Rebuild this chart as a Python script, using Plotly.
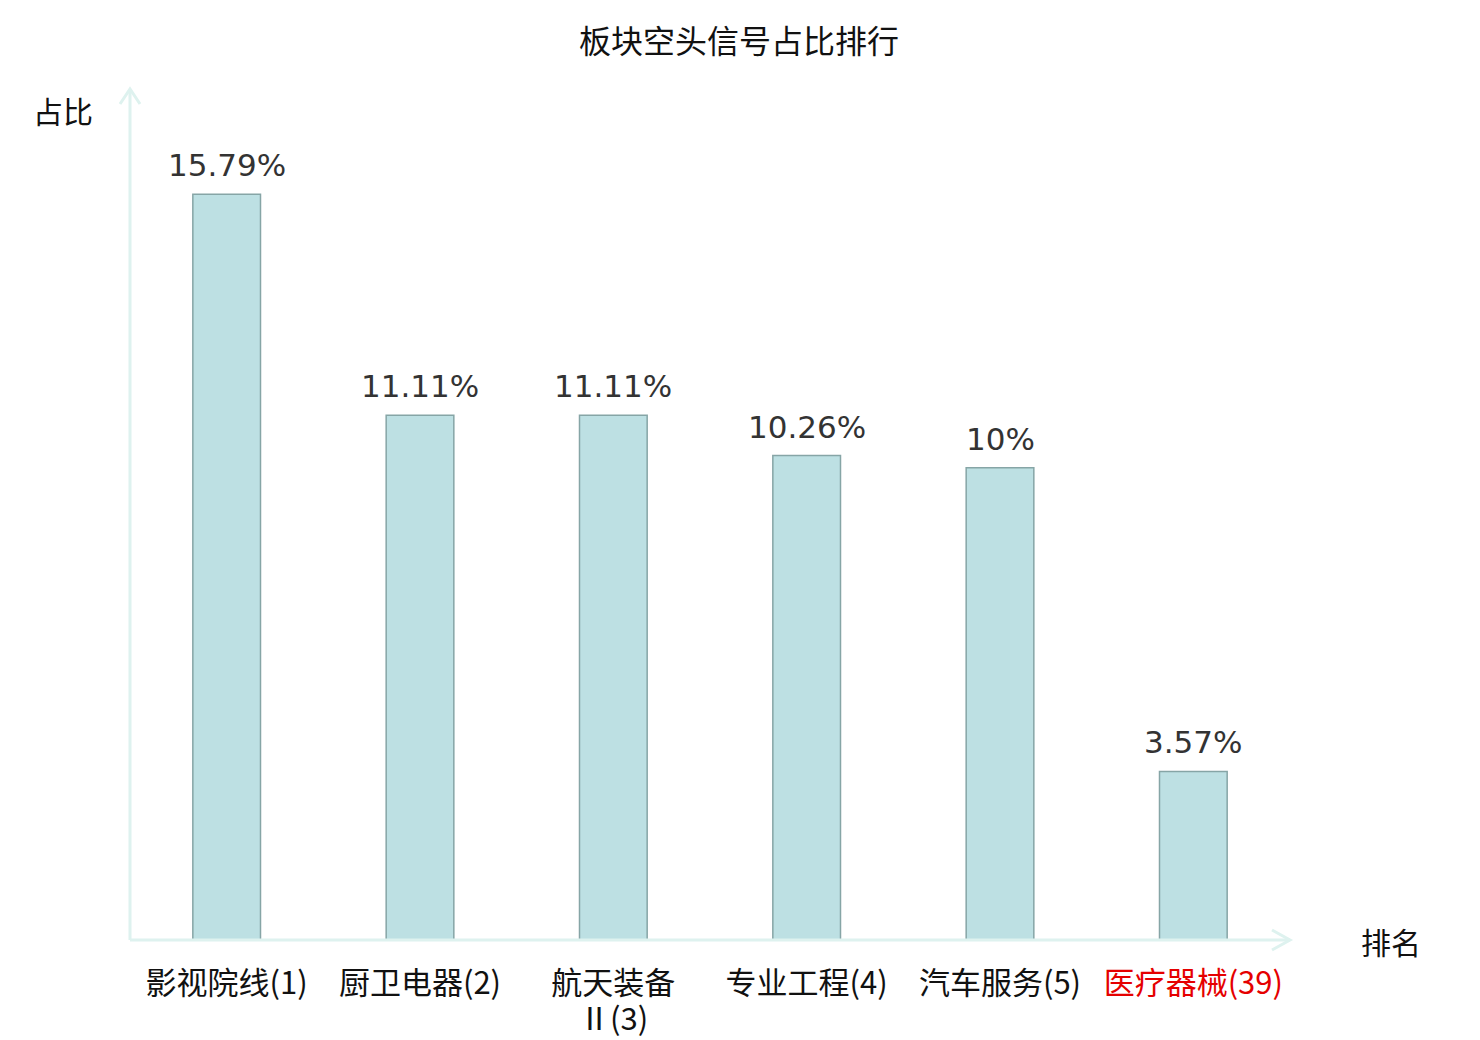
import plotly.graph_objects as go

categories = ["影视院线(1)", "厨卫电器(2)", "航天装备<br>Ⅱ(3)", "专业工程(4)", "汽车服务(5)", "医疗器械(39)"]
values = [15.79, 11.11, 11.11, 10.26, 10, 3.57]
value_labels = ["15.79%", "11.11%", "11.11%", "10.26%", "10%", "3.57%"]
highlight = [False, False, False, False, False, True]

W, H = 1480, 1040
OFF = 8  # page body margin offset
L, R, T, B = 130 - OFF, 1290 - OFF, 90 - OFF, 940 - OFF  # plot area in pixels

def paint(text, hl):
    return f'<span style="color:#e50000">{text}</span>' if hl else text

first_lines = [c.split("<br>")[0] for c in categories]
extra_lines = [c.split("<br>")[1:] for c in categories]
ticktext = [paint(c, h) for c, h in zip(first_lines, highlight)]
xs = list(range(len(categories)))

fig = go.Figure(go.Bar(
    x=xs, y=values,
    width=0.35,
    marker=dict(color="#bde0e3", line=dict(color="#86a5a6", width=1.5)),
    hoverinfo="skip",
))

def px(x):
    return (x - OFF - L) / (R - L)

def py(y):
    return (B - (y - OFF)) / (B - T)

axis_col = "#def2ef"
shapes = [
    dict(type="path", xref="paper", yref="paper",
         path=f"M {px(120)} {py(104)} L {px(130)} {py(89)} L {px(140)} {py(104)}",
         line=dict(color=axis_col, width=3)),
    dict(type="line", xref="paper", yref="paper", x0=px(130), x1=px(130), y0=py(940), y1=py(89),
         line=dict(color=axis_col, width=3)),
    dict(type="path", xref="paper", yref="paper",
         path=f"M {px(1272)} {py(930)} L {px(1290)} {py(940)} L {px(1272)} {py(950)}",
         line=dict(color=axis_col, width=3)),
    dict(type="line", xref="paper", yref="paper", x0=px(130), x1=px(1290), y0=py(940), y1=py(940),
         line=dict(color=axis_col, width=3)),
]

tick_font = dict(family="Noto Sans CJK SC", size=31, color="#111111")
annotations = [
    dict(text="占比", xref="paper", yref="paper", x=px(63), y=py(110), showarrow=False,
         xanchor="center", yanchor="middle", font=dict(family="Noto Sans CJK SC", size=30, color="#111111")),
    dict(text="排名", xref="paper", yref="paper", x=px(1391), y=py(941), showarrow=False,
         xanchor="center", yanchor="middle", font=dict(family="Noto Sans CJK SC", size=30, color="#111111")),
]
for x, v, lab in zip(xs, values, value_labels):
    annotations.append(dict(text=lab, x=x, y=v, xref="x", yref="y", showarrow=False,
                            xanchor="center", yanchor="bottom", yshift=9,
                            font=dict(family="DejaVu Sans", size=31, color="#333333")))
for x, extra, h in zip(xs, extra_lines, highlight):
    for k, line in enumerate(extra):
        annotations.append(dict(text=paint(line, h), x=x, xref="x", yref="paper", y=py(1016 + 32 * k),
                                showarrow=False, xanchor="center", yanchor="middle",
                                borderpad=0, font=tick_font))

fig.update_layout(
    width=W, height=H,
    margin=dict(l=L, r=W - R, t=T, b=H - B, pad=0, autoexpand=False),
    paper_bgcolor="white", plot_bgcolor="white",
    title=dict(text="板块空头信号占比排行", x=(739 - OFF) / W, xanchor="center", y=1 - (42 - OFF) / H, yanchor="middle",
               font=dict(family="Noto Sans CJK SC", size=32, color="#111111")),
    xaxis=dict(tickmode="array", tickvals=xs, ticktext=ticktext, range=[-0.5, 5.5],
               showline=False, showgrid=False, zeroline=False, ticks="",
               ticklabelstandoff=22, automargin=False,
               tickfont=tick_font),
    yaxis=dict(range=[0, 18], showgrid=False, showline=False, zeroline=False, showticklabels=False, ticks="",
               automargin=False),
    shapes=shapes, annotations=annotations,
    showlegend=False,
)

fig.write_html("out.html")
